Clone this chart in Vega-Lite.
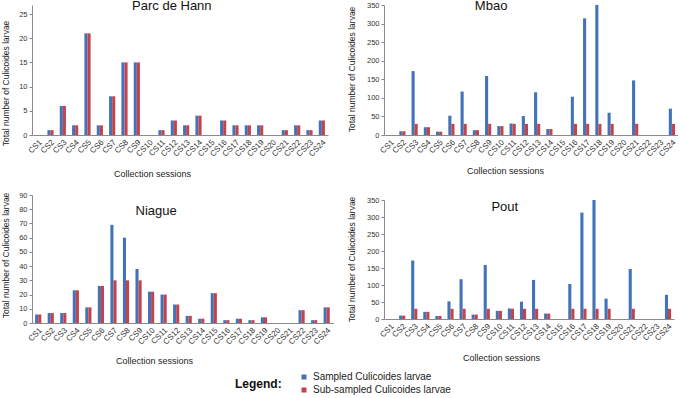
{
  "$schema": "https://vega.github.io/schema/vega-lite/v6.json",
  "padding": {"top": -1, "left": 0, "right": 0, "bottom": 0},
  "background": "white",
  "config": {
    "view": {"stroke": null},
    "font": "Liberation Sans",
    "axis": {"grid": false, "domainColor": "#8a8a8a", "tickColor": "#8a8a8a", "labelColor": "#333", "titleColor": "#222", "titleFont": "Liberation Sans", "labelFont": "Liberation Sans", "titleFontWeight": "normal", "titleFontSize": 8.5, "titleAngle": -90},
    "axisX": {"ticks": false, "labelAngle": -45, "labelFontSize": 8, "labelOverlap": false, "labelBound": false, "labelPadding": 3, "titleAngle": 0, "titleBaseline": "middle", "titleAlign": "center", "titleFontSize": 9},
    "axisY": {"tickSize": 3, "labelFontSize": 7.5, "labelPadding": 2, "titleBaseline": "middle", "titleAlign": "center"},
    "text": {"font": "Liberation Sans", "fontSize": 13, "color": "#111", "baseline": "alphabetic", "align": "center"}
  },
  "data": {"values": [
    {"site":"Parc de Hann","n":1,"sampled":0,"subsampled":0},
    {"site":"Parc de Hann","n":2,"sampled":1,"subsampled":1},
    {"site":"Parc de Hann","n":3,"sampled":6,"subsampled":6},
    {"site":"Parc de Hann","n":4,"sampled":2,"subsampled":2},
    {"site":"Parc de Hann","n":5,"sampled":21,"subsampled":21},
    {"site":"Parc de Hann","n":6,"sampled":2,"subsampled":2},
    {"site":"Parc de Hann","n":7,"sampled":8,"subsampled":8},
    {"site":"Parc de Hann","n":8,"sampled":15,"subsampled":15},
    {"site":"Parc de Hann","n":9,"sampled":15,"subsampled":15},
    {"site":"Parc de Hann","n":10,"sampled":0,"subsampled":0},
    {"site":"Parc de Hann","n":11,"sampled":1,"subsampled":1},
    {"site":"Parc de Hann","n":12,"sampled":3,"subsampled":3},
    {"site":"Parc de Hann","n":13,"sampled":2,"subsampled":2},
    {"site":"Parc de Hann","n":14,"sampled":4,"subsampled":4},
    {"site":"Parc de Hann","n":15,"sampled":0,"subsampled":0},
    {"site":"Parc de Hann","n":16,"sampled":3,"subsampled":3},
    {"site":"Parc de Hann","n":17,"sampled":2,"subsampled":2},
    {"site":"Parc de Hann","n":18,"sampled":2,"subsampled":2},
    {"site":"Parc de Hann","n":19,"sampled":2,"subsampled":2},
    {"site":"Parc de Hann","n":20,"sampled":0,"subsampled":0},
    {"site":"Parc de Hann","n":21,"sampled":1,"subsampled":1},
    {"site":"Parc de Hann","n":22,"sampled":2,"subsampled":2},
    {"site":"Parc de Hann","n":23,"sampled":1,"subsampled":1},
    {"site":"Parc de Hann","n":24,"sampled":3,"subsampled":3},
    {"site":"Mbao","n":1,"sampled":0,"subsampled":0},
    {"site":"Mbao","n":2,"sampled":10,"subsampled":10},
    {"site":"Mbao","n":3,"sampled":172,"subsampled":30},
    {"site":"Mbao","n":4,"sampled":21,"subsampled":21},
    {"site":"Mbao","n":5,"sampled":9,"subsampled":9},
    {"site":"Mbao","n":6,"sampled":52,"subsampled":30},
    {"site":"Mbao","n":7,"sampled":117,"subsampled":30},
    {"site":"Mbao","n":8,"sampled":13,"subsampled":13},
    {"site":"Mbao","n":9,"sampled":159,"subsampled":30},
    {"site":"Mbao","n":10,"sampled":24,"subsampled":24},
    {"site":"Mbao","n":11,"sampled":31,"subsampled":30},
    {"site":"Mbao","n":12,"sampled":51,"subsampled":30},
    {"site":"Mbao","n":13,"sampled":115,"subsampled":30},
    {"site":"Mbao","n":14,"sampled":16,"subsampled":16},
    {"site":"Mbao","n":15,"sampled":0,"subsampled":0},
    {"site":"Mbao","n":16,"sampled":103,"subsampled":30},
    {"site":"Mbao","n":17,"sampled":314,"subsampled":30},
    {"site":"Mbao","n":18,"sampled":350,"subsampled":30},
    {"site":"Mbao","n":19,"sampled":60,"subsampled":30},
    {"site":"Mbao","n":20,"sampled":0,"subsampled":0},
    {"site":"Mbao","n":21,"sampled":147,"subsampled":30},
    {"site":"Mbao","n":22,"sampled":0,"subsampled":0},
    {"site":"Mbao","n":23,"sampled":0,"subsampled":0},
    {"site":"Mbao","n":24,"sampled":71,"subsampled":30},
    {"site":"Niague","n":1,"sampled":6,"subsampled":6},
    {"site":"Niague","n":2,"sampled":7,"subsampled":7},
    {"site":"Niague","n":3,"sampled":7,"subsampled":7},
    {"site":"Niague","n":4,"sampled":23,"subsampled":23},
    {"site":"Niague","n":5,"sampled":11,"subsampled":11},
    {"site":"Niague","n":6,"sampled":26,"subsampled":26},
    {"site":"Niague","n":7,"sampled":69,"subsampled":30},
    {"site":"Niague","n":8,"sampled":60,"subsampled":30},
    {"site":"Niague","n":9,"sampled":38,"subsampled":30},
    {"site":"Niague","n":10,"sampled":22,"subsampled":22},
    {"site":"Niague","n":11,"sampled":20,"subsampled":20},
    {"site":"Niague","n":12,"sampled":13,"subsampled":13},
    {"site":"Niague","n":13,"sampled":5,"subsampled":5},
    {"site":"Niague","n":14,"sampled":3,"subsampled":3},
    {"site":"Niague","n":15,"sampled":21,"subsampled":21},
    {"site":"Niague","n":16,"sampled":2,"subsampled":2},
    {"site":"Niague","n":17,"sampled":3,"subsampled":3},
    {"site":"Niague","n":18,"sampled":2,"subsampled":2},
    {"site":"Niague","n":19,"sampled":4,"subsampled":4},
    {"site":"Niague","n":20,"sampled":0,"subsampled":0},
    {"site":"Niague","n":21,"sampled":0,"subsampled":0},
    {"site":"Niague","n":22,"sampled":9,"subsampled":9},
    {"site":"Niague","n":23,"sampled":2,"subsampled":2},
    {"site":"Niague","n":24,"sampled":11,"subsampled":11},
    {"site":"Pout","n":1,"sampled":0,"subsampled":0},
    {"site":"Pout","n":2,"sampled":10,"subsampled":10},
    {"site":"Pout","n":3,"sampled":172,"subsampled":30},
    {"site":"Pout","n":4,"sampled":21,"subsampled":21},
    {"site":"Pout","n":5,"sampled":9,"subsampled":9},
    {"site":"Pout","n":6,"sampled":52,"subsampled":30},
    {"site":"Pout","n":7,"sampled":117,"subsampled":30},
    {"site":"Pout","n":8,"sampled":13,"subsampled":13},
    {"site":"Pout","n":9,"sampled":159,"subsampled":30},
    {"site":"Pout","n":10,"sampled":24,"subsampled":24},
    {"site":"Pout","n":11,"sampled":31,"subsampled":30},
    {"site":"Pout","n":12,"sampled":51,"subsampled":30},
    {"site":"Pout","n":13,"sampled":115,"subsampled":30},
    {"site":"Pout","n":14,"sampled":16,"subsampled":16},
    {"site":"Pout","n":15,"sampled":0,"subsampled":0},
    {"site":"Pout","n":16,"sampled":103,"subsampled":30},
    {"site":"Pout","n":17,"sampled":313,"subsampled":30},
    {"site":"Pout","n":18,"sampled":350,"subsampled":30},
    {"site":"Pout","n":19,"sampled":60,"subsampled":30},
    {"site":"Pout","n":20,"sampled":0,"subsampled":0},
    {"site":"Pout","n":21,"sampled":147,"subsampled":30},
    {"site":"Pout","n":22,"sampled":0,"subsampled":0},
    {"site":"Pout","n":23,"sampled":0,"subsampled":0},
    {"site":"Pout","n":24,"sampled":71,"subsampled":30}
  ]},
  "columns": 2,
  "align": "none",
  "spacing": 13,
  "concat": [
    {
      "columns": 1,
      "align": "none",
      "spacing": 13,
      "concat": [
        {
          "width": 296, "height": 130,
          "encoding": {
            "x": {"field": "n", "type": "ordinal", "scale": {"paddingInner": 0.5, "paddingOuter": 0.25},
                  "axis": {"title": "Collection sessions", "labelExpr": "'CS' + datum.value", "titleX": 120, "titleY": 38}},
            "y": {"field": "value", "type": "quantitative", "scale": {"domain": [0, 26.86], "nice": false},
                  "axis": {"values": [0, 5, 10, 15, 20, 25], "title": "Total number of Culicoides larvae", "titleX": -27, "titleY": 78}}
          },
          "layer": [
            {
              "transform": [{"filter": "datum.site === 'Parc de Hann'"}, {"fold": ["sampled", "subsampled"]}],
              "mark": {"type": "bar"},
              "encoding": {
                "xOffset": {"field": "key", "scale": {"paddingInner": 0}},
                "color": {"field": "key", "type": "nominal", "scale": {"domain": ["sampled", "subsampled"], "range": ["#4272b8", "#c4434b"]},
                          "legend": {"title": "Legend:", "titleOrient": "left", "orient": "none", "legendX": 203, "legendY": 367, "titleFontSize": 12, "titleFontWeight": "bold", "titleColor": "#111", "titlePadding": 17, "titleBaseline": "middle", "titleAnchor": "middle", "labelFontSize": 10, "labelColor": "#222", "symbolType": "square", "symbolSize": 25, "symbolStrokeWidth": 0, "rowPadding": 3, "labelExpr": "datum.value == 'sampled' ? 'Sampled Culicoides larvae' : 'Sub-sampled Culicoides larvae'"}}
              }
            },
            {
              "data": {"values": [{"label": "Parc de Hann", "n": 12, "value": 25.83}]},
              "mark": {"type": "text", "dx": -2},
              "encoding": {"text": {"field": "label"}}
            }
          ]
        },
        {
          "width": 301, "height": 128,
          "encoding": {
            "x": {"field": "n", "type": "ordinal", "scale": {"paddingInner": 0.5, "paddingOuter": 0.25},
                  "axis": {"title": "Collection sessions", "labelExpr": "'CS' + datum.value", "titleX": 122, "titleY": 37}},
            "y": {"field": "value", "type": "quantitative", "scale": {"domain": [0, 90], "nice": false},
                  "axis": {"values": [0, 10, 20, 30, 40, 50, 60, 70, 80, 90], "title": "Total number of Culicoides larvae", "titleX": -27, "titleY": 60}}
          },
          "layer": [
            {
              "transform": [{"filter": "datum.site === 'Niague'"}, {"fold": ["sampled", "subsampled"]}],
              "mark": {"type": "bar"},
              "encoding": {
                "xOffset": {"field": "key", "scale": {"paddingInner": 0}},
                "color": {"field": "key", "type": "nominal", "scale": {"domain": ["sampled", "subsampled"], "range": ["#4272b8", "#c4434b"]},
                          "legend": {"title": "Legend:", "titleOrient": "left", "orient": "none", "legendX": 203, "legendY": 367, "titleFontSize": 12, "titleFontWeight": "bold", "titleColor": "#111", "titlePadding": 17, "titleBaseline": "middle", "titleAnchor": "middle", "labelFontSize": 10, "labelColor": "#222", "symbolType": "square", "symbolSize": 25, "symbolStrokeWidth": 0, "rowPadding": 3, "labelExpr": "datum.value == 'sampled' ? 'Sampled Culicoides larvae' : 'Sub-sampled Culicoides larvae'"}}
              }
            },
            {
              "data": {"values": [{"label": "Niague", "n": 10, "value": 75.9}]},
              "mark": {"type": "text", "dx": 5},
              "encoding": {"text": {"field": "label"}}
            }
          ]
        }
      ]
    },
    {
      "columns": 1,
      "align": "none",
      "spacing": 21,
      "concat": [
        {
          "width": 294, "height": 130,
          "encoding": {
            "x": {"field": "n", "type": "ordinal", "scale": {"paddingInner": 0.5, "paddingOuter": 0.25},
                  "axis": {"title": "Collection sessions", "labelExpr": "'CS' + datum.value", "titleX": 121, "titleY": 35}},
            "y": {"field": "value", "type": "quantitative", "scale": {"domain": [0, 350], "nice": false},
                  "axis": {"values": [0, 50, 100, 150, 200, 250, 300, 350], "title": "Total number of Culicoides larvae", "titleX": -33, "titleY": 64}}
          },
          "layer": [
            {
              "transform": [{"filter": "datum.site === 'Mbao'"}, {"fold": ["sampled", "subsampled"]}],
              "mark": {"type": "bar"},
              "encoding": {
                "xOffset": {"field": "key", "scale": {"paddingInner": 0}},
                "color": {"field": "key", "type": "nominal", "scale": {"domain": ["sampled", "subsampled"], "range": ["#4272b8", "#c4434b"]},
                          "legend": {"title": "Legend:", "titleOrient": "left", "orient": "none", "legendX": 203, "legendY": 367, "titleFontSize": 12, "titleFontWeight": "bold", "titleColor": "#111", "titlePadding": 17, "titleBaseline": "middle", "titleAnchor": "middle", "labelFontSize": 10, "labelColor": "#222", "symbolType": "square", "symbolSize": 25, "symbolStrokeWidth": 0, "rowPadding": 3, "labelExpr": "datum.value == 'sampled' ? 'Sampled Culicoides larvae' : 'Sub-sampled Culicoides larvae'"}}
              }
            },
            {
              "data": {"values": [{"label": "Mbao", "n": 9, "value": 336.5}]},
              "mark": {"type": "text", "dx": 3},
              "encoding": {"text": {"field": "label"}}
            }
          ]
        },
        {
          "width": 290, "height": 119,
          "encoding": {
            "x": {"field": "n", "type": "ordinal", "scale": {"paddingInner": 0.5, "paddingOuter": 0.25},
                  "axis": {"title": "Collection sessions", "labelExpr": "'CS' + datum.value", "titleX": 117, "titleY": 38}},
            "y": {"field": "value", "type": "quantitative", "scale": {"domain": [0, 350], "nice": false},
                  "axis": {"values": [0, 50, 100, 150, 200, 250, 300, 350], "title": "Total number of Culicoides larvae", "titleX": -33, "titleY": 59}}
          },
          "layer": [
            {
              "transform": [{"filter": "datum.site === 'Pout'"}, {"fold": ["sampled", "subsampled"]}],
              "mark": {"type": "bar"},
              "encoding": {
                "xOffset": {"field": "key", "scale": {"paddingInner": 0}},
                "color": {"field": "key", "type": "nominal", "scale": {"domain": ["sampled", "subsampled"], "range": ["#4272b8", "#c4434b"]},
                          "legend": {"title": "Legend:", "titleOrient": "left", "orient": "none", "legendX": 203, "legendY": 367, "titleFontSize": 12, "titleFontWeight": "bold", "titleColor": "#111", "titlePadding": 17, "titleBaseline": "middle", "titleAnchor": "middle", "labelFontSize": 10, "labelColor": "#222", "symbolType": "square", "symbolSize": 25, "symbolStrokeWidth": 0, "rowPadding": 3, "labelExpr": "datum.value == 'sampled' ? 'Sampled Culicoides larvae' : 'Sub-sampled Culicoides larvae'"}}
              }
            },
            {
              "data": {"values": [{"label": "Pout", "n": 10, "value": 317.6}]},
              "mark": {"type": "text", "dx": 6},
              "encoding": {"text": {"field": "label"}}
            }
          ]
        }
      ]
    }
  ]
}
